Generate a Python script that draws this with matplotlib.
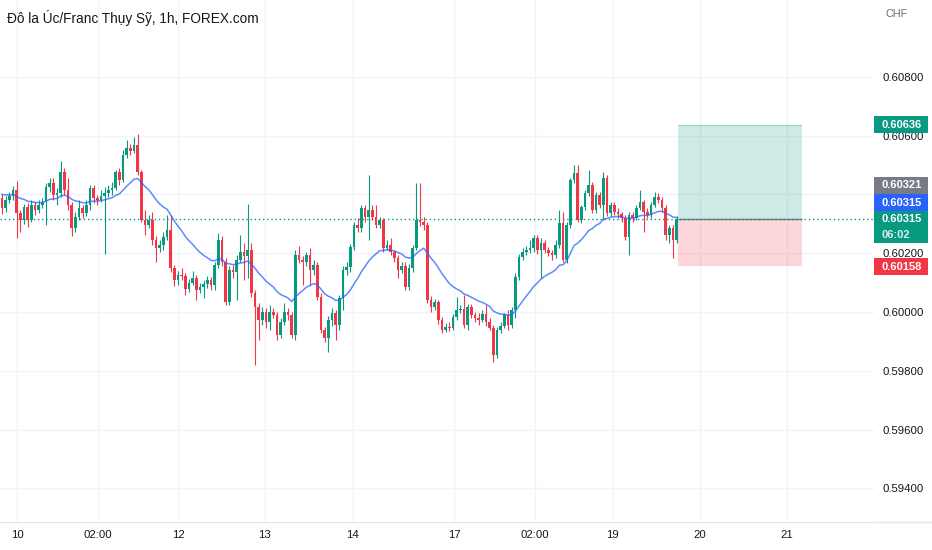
import matplotlib
matplotlib.use('Agg')
import matplotlib.pyplot as plt
from matplotlib.patches import Rectangle
from matplotlib.lines import Line2D
import numpy as np

# AUD/CHF 1h candles, prices in 1e-5 CHF
open_pts = [
    60388, 60354, 60381, 60395, 60415, 60337, 60313, 60357, 60313, 60364,
    60347, 60364, 60374, 60425, 60439, 60398, 60405, 60476, 60415, 60364,
    60286, 60323, 60354, 60337, 60364, 60422, 60388, 60381, 60395, 60405,
    60415, 60422, 60476, 60449, 60534, 60558, 60548, 60568, 60476, 60313,
    60296, 60313, 60245, 60218, 60228, 60255, 60279, 60150, 60109, 60126,
    60123, 60078, 60099, 60116, 60075, 60085, 60095, 60109, 60092, 60160,
    60245, 60170, 60034, 60143, 60136, 60177, 60204, 60191, 60211, 60065,
    60017, 59973, 60000, 59966, 60000, 59990, 59922, 59966, 60000, 59990,
    59922, 60194, 60177, 60170, 60194, 60143, 60160, 60051, 59939, 59912,
    59973, 59997, 59956, 60048, 60143, 60153, 60221, 60296, 60286, 60354,
    60323, 60347, 60323, 60296, 60313, 60218, 60228, 60204, 60184, 60143,
    60157, 60085, 60150, 60218, 60313, 60306, 60296, 60041, 60017, 60034,
    59973, 59939, 59949, 59946, 59983, 60007, 60010, 59956, 60017, 59990,
    59980, 59973, 59993, 59966, 59946, 59854, 59939, 59953, 59990, 59956,
    60007, 60119, 60187, 60204, 60211, 60218, 60252, 60211, 60235, 60211,
    60201, 60194, 60228, 60303, 60177, 60296, 60449, 60473, 60313, 60357,
    60405, 60432, 60347, 60398, 60364, 60456, 60337, 60364, 60340, 60333,
    60320, 60255, 60330, 60320, 60354, 60374, 60340, 60330, 60364, 60391,
    60381, 60354, 60262, 60286, 60245]
high_pts = [
    60401, 60395, 60408, 60429, 60446, 60347, 60367, 60371, 60381, 60374,
    60381, 60388, 60439, 60456, 60456, 60422, 60514, 60490, 60456, 60374,
    60340, 60381, 60364, 60381, 60432, 60432, 60398, 60415, 60425, 60432,
    60442, 60483, 60490, 60551, 60585, 60571, 60595, 60605, 60483, 60347,
    60330, 60340, 60259, 60245, 60272, 60330, 60330, 60160, 60140, 60150,
    60133, 60112, 60140, 60126, 60099, 60109, 60123, 60119, 60170, 60269,
    60259, 60184, 60157, 60160, 60194, 60262, 60235, 60367, 60235, 60075,
    60031, 60017, 60014, 60024, 60014, 60000, 59980, 60031, 60014, 60000,
    60211, 60225, 60191, 60204, 60218, 60177, 60170, 60065, 59949, 59987,
    60014, 60007, 60058, 60157, 60170, 60231, 60306, 60320, 60364, 60364,
    60466, 60364, 60364, 60323, 60320, 60245, 60252, 60211, 60194, 60170,
    60170, 60163, 60228, 60439, 60439, 60323, 60306, 60055, 60044, 60041,
    59983, 59963, 59966, 59993, 60051, 60024, 60058, 60027, 60027, 60000,
    59997, 60007, 60024, 59980, 59956, 59949, 59966, 59997, 60007, 60017,
    60133, 60197, 60218, 60225, 60245, 60262, 60262, 60252, 60245, 60221,
    60211, 60245, 60347, 60340, 60306, 60456, 60500, 60500, 60364, 60415,
    60483, 60442, 60408, 60408, 60476, 60466, 60374, 60374, 60354, 60340,
    60330, 60340, 60340, 60364, 60415, 60381, 60354, 60374, 60408, 60405,
    60391, 60364, 60296, 60296, 60327]
low_pts = [
    60333, 60340, 60371, 60381, 60252, 60272, 60299, 60289, 60306, 60330,
    60337, 60354, 60296, 60408, 60381, 60364, 60391, 60398, 60347, 60259,
    60272, 60313, 60320, 60327, 60347, 60371, 60364, 60374, 60197, 60391,
    60398, 60415, 60432, 60442, 60524, 60534, 60541, 60466, 60306, 60262,
    60286, 60228, 60170, 60204, 60211, 60245, 60136, 60089, 60092, 60109,
    60058, 60068, 60092, 60041, 60065, 60048, 60082, 60075, 60075, 60150,
    60157, 60024, 60024, 60116, 60041, 60170, 60109, 60116, 60051, 59820,
    59905, 59956, 59946, 59939, 59980, 59905, 59912, 59956, 59973, 59912,
    59905, 60167, 60092, 60157, 60092, 60126, 60041, 59929, 59898, 59864,
    59953, 59905, 59939, 60007, 60126, 60136, 60211, 60272, 60272, 60306,
    60245, 60313, 60286, 60286, 60204, 60211, 60194, 60170, 60116, 60133,
    60075, 60075, 60136, 60211, 60293, 60279, 60031, 60000, 60007, 59959,
    59929, 59932, 59936, 59939, 59973, 59997, 59946, 59939, 59980, 59966,
    59956, 59966, 59953, 59939, 59830, 59844, 59929, 59946, 59939, 59946,
    59980, 60109, 60177, 60194, 60201, 60204, 60197, 60116, 60201, 60191,
    60177, 60184, 60218, 60170, 60167, 60286, 60439, 60306, 60303, 60347,
    60395, 60337, 60337, 60354, 60313, 60327, 60327, 60330, 60320, 60306,
    60245, 60194, 60306, 60313, 60347, 60272, 60320, 60320, 60357, 60371,
    60340, 60245, 60235, 60184, 60235]
close_pts = [
    60354, 60381, 60395, 60415, 60337, 60313, 60357, 60313, 60364, 60347,
    60364, 60374, 60425, 60439, 60398, 60405, 60476, 60415, 60364, 60286,
    60323, 60354, 60337, 60364, 60422, 60388, 60381, 60395, 60405, 60415,
    60422, 60476, 60449, 60534, 60558, 60548, 60568, 60476, 60313, 60296,
    60313, 60245, 60218, 60228, 60255, 60279, 60150, 60109, 60126, 60123,
    60078, 60099, 60116, 60075, 60085, 60095, 60109, 60092, 60160, 60245,
    60170, 60034, 60143, 60136, 60177, 60204, 60191, 60211, 60065, 60017,
    59973, 60000, 59966, 60000, 59990, 59922, 59966, 60000, 59990, 59922,
    60194, 60177, 60170, 60194, 60143, 60160, 60051, 59939, 59912, 59973,
    59997, 59956, 60048, 60143, 60153, 60221, 60296, 60286, 60354, 60323,
    60347, 60323, 60296, 60313, 60218, 60228, 60204, 60184, 60143, 60157,
    60085, 60150, 60218, 60313, 60306, 60296, 60041, 60017, 60034, 59973,
    59939, 59949, 59946, 59983, 60007, 60010, 59956, 60017, 59990, 59980,
    59973, 59993, 59966, 59946, 59854, 59939, 59953, 59990, 59956, 60007,
    60119, 60187, 60204, 60211, 60218, 60252, 60211, 60235, 60211, 60201,
    60194, 60228, 60303, 60177, 60296, 60449, 60473, 60313, 60357, 60405,
    60432, 60347, 60398, 60364, 60456, 60337, 60364, 60340, 60333, 60320,
    60255, 60330, 60320, 60354, 60374, 60340, 60330, 60364, 60391, 60381,
    60354, 60262, 60286, 60245, 60315]

ma_start = 0.60405   # moving average value at the first bar
ma_span = 20

date_ticks = [4.2, 26.2, 48, 71.7, 95.6, 123.3, 145.4, 166.6, 190.3, 214.1]
date_labels = ['10', '02:00', '12', '13', '14', '17', '02:00', '19', '20', '21']
price_ticks = [0.594, 0.596, 0.598, 0.600, 0.602, 0.604, 0.606, 0.608]
hidden_ticks = [0.604]   # covered by the price tags in the original

target = 0.60636
entry = 0.60315
stop = 0.60158
prev_close = 0.60321
ma_value = 0.60315
countdown = '06:02'
pos_start, pos_end = 184.4, 218.2

title = 'Đô la Úc/Franc Thụy Sỹ, 1h, FOREX.com'

UP = '#089981'
DOWN = '#f23645'
TXT = '#131722'
plt.rcParams['font.family'] = ['Liberation Sans', 'DejaVu Sans']

opens = np.array(open_pts) / 1e5
highs = np.array(high_pts) / 1e5
lows = np.array(low_pts) / 1e5
closes = np.array(close_pts) / 1e5
idx = np.arange(len(closes))

# exponential moving average of the closes
alpha = 2.0 / (ma_span + 1)
ema = np.empty_like(closes)
prev = ma_start
for i, c in enumerate(closes):
    prev = alpha * c + (1 - alpha) * prev
    ema[i] = prev

W, H = 932, 550
fig = plt.figure(figsize=(W / 100, H / 100), dpi=100)
fig.patch.set_facecolor('white')
ax = fig.add_axes([0, 28 / H, 874 / W, 522 / H])

colors = np.where(closes >= opens, UP, DOWN)
ax.vlines(idx, lows, highs, colors=colors, linewidth=0.8, zorder=3)
body = np.maximum(np.abs(closes - opens), 0.000025)
ax.bar(idx, body, bottom=np.minimum(opens, closes), width=0.72,
       color=colors, linewidth=0, zorder=3)
ax.plot(idx, ema, color='#2962ff', alpha=0.75, linewidth=1.1, zorder=4)

# long position tool
ax.add_patch(Rectangle((pos_start, entry), pos_end - pos_start, target - entry,
                       facecolor=UP, alpha=0.2, linewidth=0, zorder=2))
ax.add_patch(Rectangle((pos_start, stop), pos_end - pos_start, entry - stop,
                       facecolor=DOWN, alpha=0.2, linewidth=0, zorder=2))
ax.hlines(target, pos_start, pos_end, color=UP, alpha=0.25, linewidth=1, zorder=2)
ax.hlines(entry, pos_start, pos_end, color='#787b86', linewidth=1, zorder=2)

ax.axhline(entry, color=UP, linewidth=1, linestyle=(0, (1, 2)), zorder=2)

ax.set_xlim(-0.55, 237.8)
ax.set_ylim(0.59286, 0.61061)
ax.set_xticks(date_ticks)
ax.set_xticklabels(date_labels)
ax.set_yticks(price_ticks)
ax.set_yticklabels(['' if p in hidden_ticks else f'{p:.5f}' for p in price_ticks])
ax.yaxis.tick_right()
ax.tick_params(axis='y', length=0, pad=6, labelsize=8.2, labelcolor=TXT)
ax.tick_params(axis='x', length=0, pad=6, labelsize=8.2, labelcolor=TXT)
ax.grid(color='#f0f3fa', linewidth=1)
ax.set_axisbelow(True)
for side in ['top', 'left', 'right']:
    ax.spines[side].set_visible(False)
ax.spines['bottom'].set_color('#e0e3eb')
fig.add_artist(Line2D([876 / W, 1], [28 / H, 28 / H], color='#e0e3eb', linewidth=1))

fig.text(7 / W, 1 - 18 / H, title, fontsize=9.8, color=TXT, va='center', ha='left')
fig.text(886 / W, 1 - 14 / H, 'CHF', fontsize=7.8, color='#6a6d78', va='center', ha='left')


def tag(top_px, h_px, color, lines):
    fig.add_artist(Rectangle((874 / W, 1 - (top_px + h_px) / H), 54 / W, h_px / H,
                             transform=fig.transFigure, facecolor=color,
                             linewidth=0, zorder=5))
    step = h_px / len(lines)
    for k, (txt, tcol) in enumerate(lines):
        yc = top_px + step * (k + 0.5)
        fig.text(881 / W, 1 - yc / H, txt, fontsize=8.0, color=tcol,
                 va='center', ha='left', zorder=6, fontweight='bold')


tag(116, 17, UP, [(f'{target:.5f}', 'white')])
tag(177, 17, '#787b86', [(f'{prev_close:.5f}', 'white')])
tag(194, 17, '#2962ff', [(f'{ma_value:.5f}', 'white')])
tag(211, 32, UP, [(f'{entry:.5f}', 'white'), (countdown, '#d6f0ea')])
tag(258, 17, DOWN, [(f'{stop:.5f}', 'white')])

fig.savefig('out.png', dpi=100, facecolor='white')
